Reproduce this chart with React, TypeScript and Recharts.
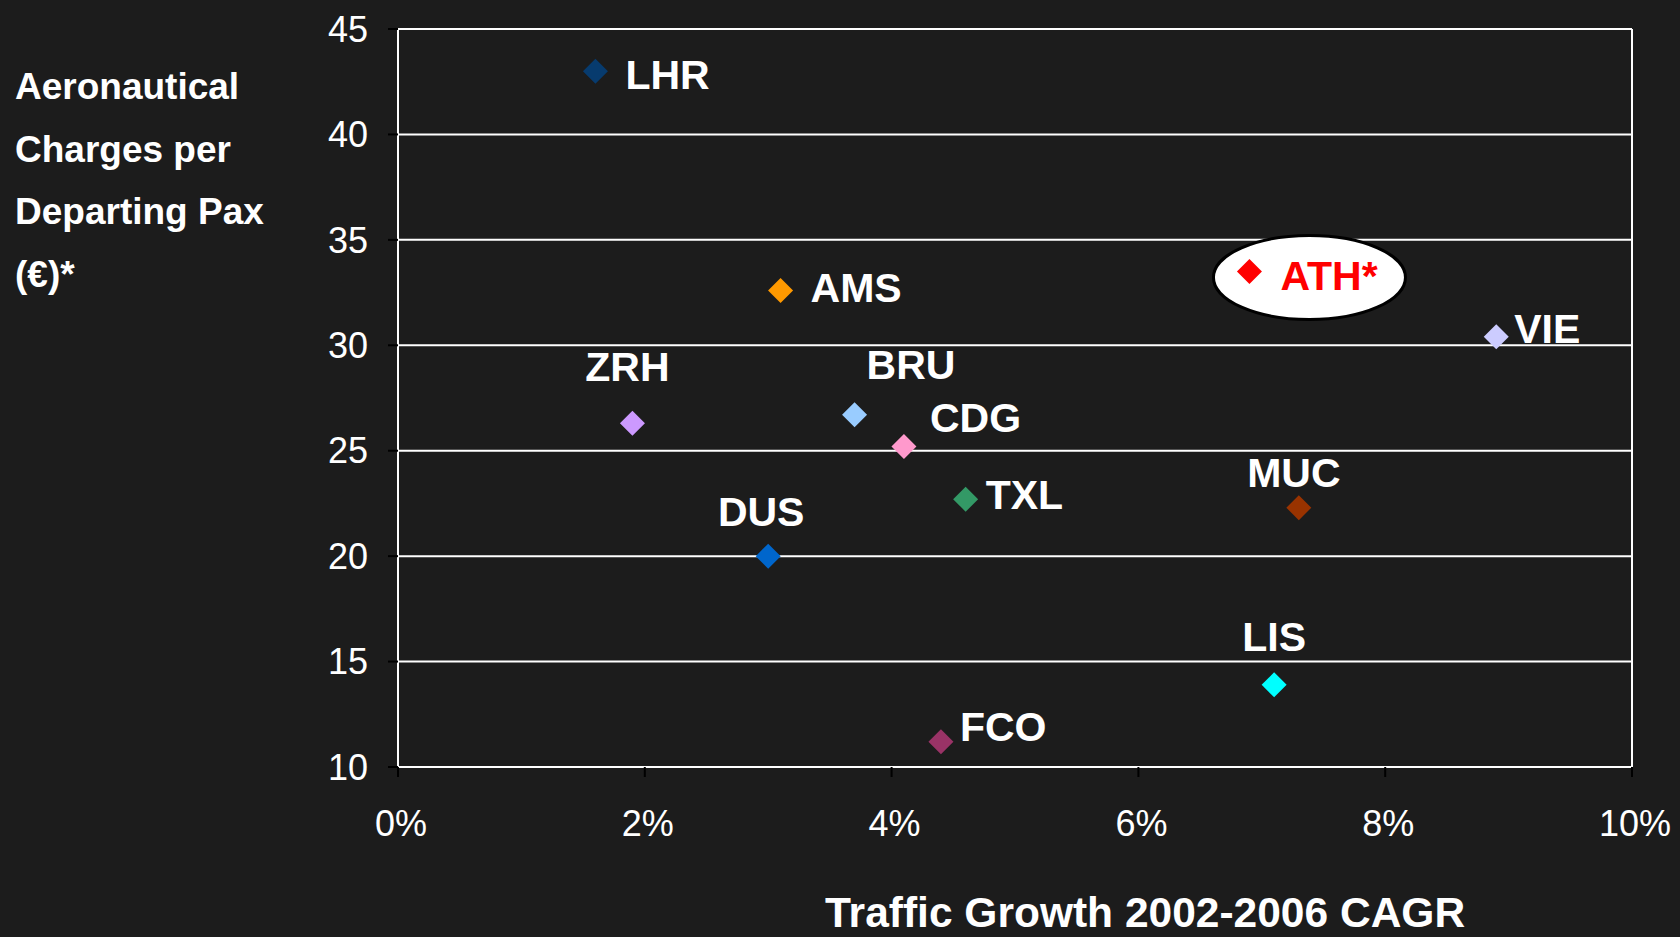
import { ScatterChart, Scatter, XAxis, YAxis, CartesianGrid, ReferenceLine } from "recharts";

// airport codes, traffic growth 2002-2006 CAGR (%), aeronautical charges per departing pax (EUR)
const airports = ["LHR", "AMS", "ZRH", "BRU", "CDG", "TXL", "DUS", "FCO", "LIS", "MUC", "ATH*", "VIE"];
const trafficGrowth = [1.6, 3.1, 1.9, 3.7, 4.1, 4.6, 3.0, 4.4, 7.1, 7.3, 6.9, 8.9];
const charges = [43.0, 32.6, 26.3, 26.7, 25.2, 22.7, 20.0, 11.2, 13.9, 22.3, 33.5, 30.4];

const xTicks = [0, 2, 4, 6, 8, 10];
const yTicks = [10, 15, 20, 25, 30, 35, 40, 45];

const yTitle = ["Aeronautical", "Charges per", "Departing Pax", "(€)*"];
const xTitle = "Traffic Growth 2002-2006 CAGR";

const colors: Record<string, string> = {
  LHR: "#073b6e",
  AMS: "#ff9900",
  ZRH: "#cc99ff",
  BRU: "#99ccff",
  CDG: "#ff99cc",
  TXL: "#339966",
  DUS: "#0066cc",
  FCO: "#993366",
  LIS: "#00ffff",
  MUC: "#993300",
  "ATH*": "#ff0000",
  VIE: "#ccccff",
};

// where each label sits relative to its marker: [dx, dy of text middle, anchor]
const labelPlace: Record<string, [number, number, string]> = {
  LHR: [30, 3, "start"],
  AMS: [30, -3, "start"],
  ZRH: [-5, -57, "middle"],
  BRU: [12, -50, "start"],
  CDG: [26, -29, "start"],
  TXL: [20, -5, "start"],
  DUS: [-7, -45, "middle"],
  FCO: [19, -15, "start"],
  LIS: [0, -48, "middle"],
  MUC: [-5, -35, "middle"],
  "ATH*": [31, 4, "start"],
  VIE: [18, -8, "start"],
};

const FONT = "'Liberation Sans', Arial, Helvetica, sans-serif";
const BG = "#1c1c1c";

function Marker(props: any) {
  const { cx, cy, code } = props;
  const r = 12.5;
  const [dx, dy, anchor] = labelPlace[code];
  const isAth = code === "ATH*";
  return (
    <g>
      {isAth && (
        <ellipse cx={cx + 60} cy={cy + 6} rx={96} ry={42} fill="#fff" stroke="#000" strokeWidth={3} />
      )}
      <path
        d={`M${cx},${cy - r} L${cx + r},${cy} L${cx},${cy + r} L${cx - r},${cy} Z`}
        fill={colors[code]}
      />
      <text
        x={cx + dx}
        y={cy + dy + 14.5}
        textAnchor={anchor as any}
        fontFamily={FONT}
        fontWeight="bold"
        fontSize={41}
        fill={isAth ? "#ff0000" : "#fff"}
      >
        {code}
      </text>
    </g>
  );
}

export default function App() {
  return (
    <div style={{ position: "absolute", left: 0, top: 0, width: 1680, height: 937, background: BG }}>
      <ScatterChart width={1680} height={937} margin={{ top: 29, right: 48, bottom: 0, left: 0 }}>
        <CartesianGrid horizontal vertical={false} stroke="#fff" strokeWidth={2} />
        <XAxis
          type="number"
          dataKey="x"
          domain={[0, 10]}
          ticks={xTicks}
          interval={0}
          height={170}
          tickSize={10}
          tickMargin={33}
          axisLine={{ stroke: "#fff", strokeWidth: 2 }}
          tickLine={{ stroke: "#000", strokeWidth: 2 }}
          tick={{ fill: "#fff", fontSize: 36, fontFamily: FONT, dx: 3 }}
          tickFormatter={(v) => `${v}%`}
          label={{
            content: () => (
              <text x={825} y={927} fontFamily={FONT} fontWeight="bold" fontSize={42.5} fill="#fff">
                {xTitle}
              </text>
            ),
          }}
        />
        <YAxis
          type="number"
          dataKey="y"
          domain={[10, 45]}
          ticks={yTicks}
          interval={0}
          width={398}
          tickSize={10}
          tickMargin={20}
          axisLine={{ stroke: "#fff", strokeWidth: 2 }}
          tickLine={{ stroke: "#000", strokeWidth: 2 }}
          tick={{ fill: "#fff", fontSize: 36, fontFamily: FONT }}
          label={{
            content: () => (
              <text fontFamily={FONT} fontWeight="bold" fontSize={37} fill="#fff">
                {yTitle.map((line, i) => (
                  <tspan key={line} x={15} y={99 + i * 62.7}>
                    {line}
                  </tspan>
                ))}
              </text>
            ),
          }}
        />
        <ReferenceLine x={10} stroke="#fff" strokeWidth={2} />
        {airports.map((code, i) => (
          <Scatter
            key={code}
            name={code}
            data={[{ x: trafficGrowth[i], y: charges[i] }]}
            isAnimationActive={false}
            shape={(p: any) => <Marker cx={p.cx} cy={p.cy} code={code} />}
          />
        ))}
      </ScatterChart>
    </div>
  );
}
